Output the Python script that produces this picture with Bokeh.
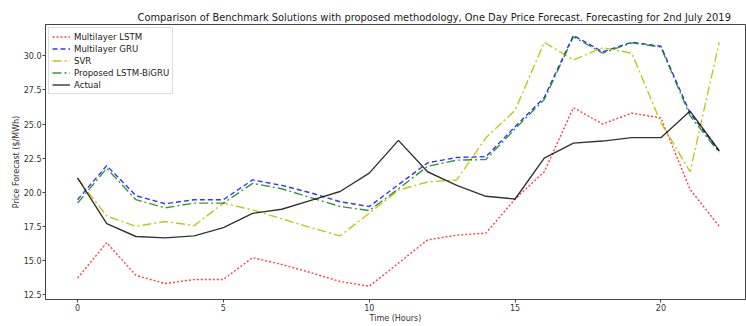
from bokeh.plotting import figure
from bokeh.models import Range1d, FixedTicker, NumeralTickFormatter, Legend, LegendItem
from bokeh.embed import file_html
from bokeh.resources import INLINE

hours = list(range(23))
lstm = [13.7, 16.3, 13.9, 13.3, 13.6, 13.6, 15.2, 14.7, 14.1, 13.45, 13.1, 14.8, 16.5,
        16.85, 17.0, 19.5, 21.5, 26.2, 25.0, 25.8, 25.45, 20.2, 17.5]
gru = [19.45, 21.95, 19.75, 19.15, 19.45, 19.45, 20.9, 20.5, 19.95, 19.3, 18.95, 20.55, 22.15,
       22.55, 22.6, 24.8, 26.95, 31.5, 30.3, 31.0, 30.7, 25.8, 23.0]
svr = [21.0, 18.25, 17.5, 17.85, 17.55, 19.2, 18.7, 18.05, 17.4, 16.8, 18.45, 20.15, 20.75,
       20.9, 24.0, 26.0, 31.0, 29.7, 30.6, 30.2, 25.1, 21.5, 31.0]
proposed = [19.2, 21.75, 19.45, 18.85, 19.2, 19.2, 20.65, 20.25, 19.6, 18.95, 18.65, 20.25, 21.9,
            22.35, 22.4, 24.65, 26.8, 31.4, 30.2, 30.95, 30.65, 25.6, 22.9]
actual = [21.05, 17.7, 16.75, 16.65, 16.8, 17.4, 18.45, 18.75, 19.4, 20.05, 21.4, 23.8, 21.5,
          20.5, 19.7, 19.5, 22.5, 23.6, 23.75, 24.0, 24.0, 25.95, 23.05]

x_ticks = [0, 5, 10, 15, 20]
y_ticks = [12.5, 15.0, 17.5, 20.0, 22.5, 25.0, 27.5, 30.0]

FONT = "DejaVu Sans"

p = figure(width=746, height=326, output_backend="svg", toolbar_location=None,
           x_range=Range1d(-1.1, 22.9), y_range=Range1d(12.13, 32.3),
           min_border_left=45, min_border_right=1, min_border_top=24, min_border_bottom=27)

p.title.text = ("Comparison of Benchmark Solutions with proposed methodology, "
                "One Day Price Forecast. Forecasting for 2nd July 2019")
p.title.align = "left"
p.title.offset = 92
p.title.text_font = FONT
p.title.text_font_size = "9.9px"
p.title.text_font_style = "normal"
p.title.text_color = "#222222"
p.title.standoff = 3

p.xgrid.visible = False
p.ygrid.visible = False
p.outline_line_color = "#444444"
p.outline_line_width = 1

for ax in (p.xaxis[0], p.yaxis[0]):
    ax.major_label_text_font = FONT
    ax.major_label_text_font_size = "8px"
    ax.major_label_text_color = "#333333"
    ax.axis_label_text_font = FONT
    ax.axis_label_text_font_size = "8px"
    ax.axis_label_text_font_style = "normal"
    ax.axis_label_text_color = "#333333"
    ax.minor_tick_line_color = None
    ax.major_tick_in = 0
    ax.major_tick_out = 3
    ax.axis_line_color = "#444444"
    ax.major_tick_line_color = "#444444"
    ax.major_label_standoff = 1
    ax.axis_label_standoff = 0

p.xaxis.ticker = FixedTicker(ticks=x_ticks)
p.yaxis.ticker = FixedTicker(ticks=y_ticks)
p.yaxis.formatter = NumeralTickFormatter(format="0.0")
p.xaxis.axis_label = "Time (Hours)"
p.yaxis.axis_label = "Price Forecast ($/MWh)"

r1 = p.line(hours, lstm, line_color="#ff0000", line_alpha=0.75, line_width=1.4, line_dash="2 2")
r2 = p.line(hours, gru, line_color="#0000ff", line_alpha=0.8, line_width=1.4, line_dash="5 3")
r3 = p.line(hours, svr, line_color="#bfbf00", line_alpha=0.9, line_width=1.4, line_dash="9 3 2 3")
r4 = p.line(hours, proposed, line_color="#008000", line_alpha=0.8, line_width=1.4, line_dash="9 3 2 3")
r5 = p.line(hours, actual, line_color="#000000", line_alpha=0.8, line_width=1.4)

legend = Legend(items=[
    LegendItem(label="Multilayer LSTM", renderers=[r1]),
    LegendItem(label="Multilayer GRU", renderers=[r2]),
    LegendItem(label="SVR", renderers=[r3]),
    LegendItem(label="Proposed LSTM-BiGRU", renderers=[r4]),
    LegendItem(label="Actual", renderers=[r5]),
], location="top_left")
legend.label_text_font = FONT
legend.label_text_font_size = "8.6px"
legend.label_text_color = "#222222"
legend.label_height = 11
legend.glyph_height = 11
legend.glyph_width = 18
legend.spacing = 1
legend.padding = 3
legend.margin = 3
legend.label_standoff = 4
legend.border_line_color = "#dddddd"
legend.border_line_alpha = 1
legend.background_fill_alpha = 0.8
p.add_layout(legend)

open("out.html", "w").write(file_html(p, INLINE))
